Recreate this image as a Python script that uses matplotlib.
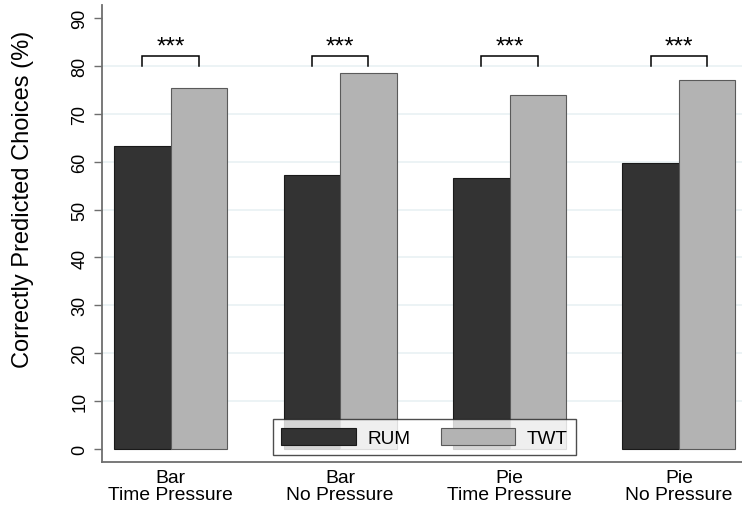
import matplotlib
matplotlib.use("Agg")
import matplotlib.pyplot as plt
import numpy as np

# data
groups = ["Bar\nTime Pressure", "Bar\nNo Pressure", "Pie\nTime Pressure", "Pie\nNo Pressure"]
rum = [63.2, 57.3, 56.6, 59.7]
twt = [75.4, 78.6, 73.9, 77.1]
stars = ["***", "***", "***", "***"]
yticks = [0, 10, 20, 30, 40, 50, 60, 70, 80, 90]

plt.rcParams["font.family"] = ["Liberation Sans", "DejaVu Sans"]

fig = plt.figure(figsize=(7.42, 5.06), dpi=100)
ax = fig.add_axes([0.1375, 0.085, 0.8625, 0.903])

x = np.arange(len(groups))
w = 1 / 3
ax.bar(x - w / 2, rum, w, color="#333333", edgecolor="#1a1a1a", linewidth=0.8, label="RUM", zorder=3)
ax.bar(x + w / 2, twt, w, color="#b3b3b3", edgecolor="#5a5a5a", linewidth=0.8, label="TWT", zorder=3)

# significance brackets
for xi, s in zip(x, stars):
    ax.plot([xi - w / 2, xi - w / 2, xi + w / 2, xi + w / 2], [80, 82, 82, 80],
            color="black", lw=1.1, zorder=4, solid_joinstyle="miter")
    ax.text(xi, 84.1, s, ha="center", va="center", fontsize=17.5, zorder=4)

# light grid on interior ticks only
for yv in yticks[1:-1]:
    ax.axhline(yv, color="#e9f1f3", lw=1.2, zorder=1)

ax.set_xlim(-0.405, 3.372)
ax.set_ylim(-2.7, 92.7)
ax.set_yticks(yticks)
ax.set_yticklabels([str(v) for v in yticks], rotation=90, va="center", fontsize=13)
ax.set_xticks(x)
ax.set_xticklabels(groups, fontsize=13.9, linespacing=0.98)
ax.tick_params(axis="x", length=0, pad=5)
ax.tick_params(axis="y", length=6, width=1.0, color="#6e6e6e", pad=4)

for side in ["top", "right"]:
    ax.spines[side].set_visible(False)
for side in ["left", "bottom"]:
    ax.spines[side].set_color("#6e6e6e")
    ax.spines[side].set_linewidth(1.3)

fig.text(23 / 742, 1 - 199 / 506, "Correctly Predicted Choices (%)", rotation=90,
         ha="center", va="center", fontsize=17)

leg = ax.legend(ncol=2, loc="center", bbox_to_anchor=(0.504, 0.054), fontsize=13.7,
                frameon=True, fancybox=False, shadow=False, edgecolor="#222222",
                handlelength=3.9, handleheight=1.05, handletextpad=0.63,
                columnspacing=1.58, borderpad=0.44, borderaxespad=0)
leg.get_frame().set_linewidth(1.0)
leg.set_zorder(5)

fig.savefig("out.png", dpi=100)
